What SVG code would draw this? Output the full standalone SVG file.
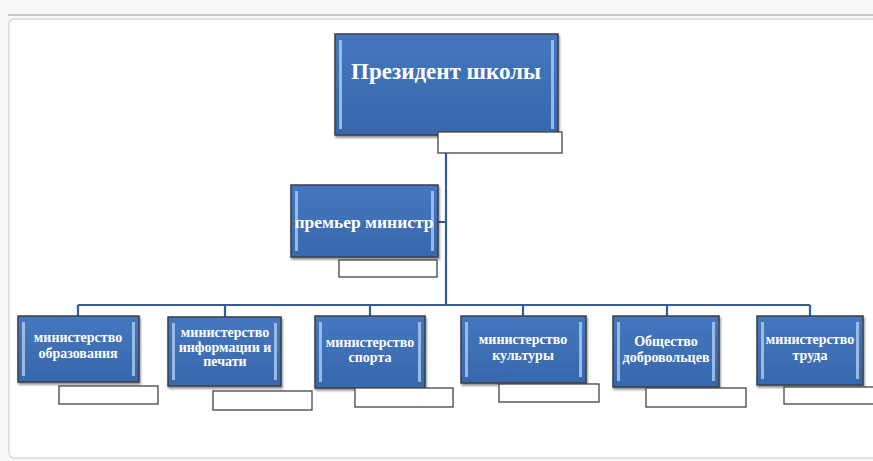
<svg xmlns="http://www.w3.org/2000/svg" width="873" height="461" viewBox="0 0 873 461">
<defs>
<linearGradient id="g" x1="0" y1="0" x2="0" y2="1">
<stop offset="0" stop-color="#4677be"/>
<stop offset="1" stop-color="#3767ac"/>
</linearGradient>
<filter id="sh" x="-10%" y="-10%" width="120%" height="130%">
<feDropShadow dx="1" dy="2" stdDeviation="1.2" flood-color="#000" flood-opacity="0.45"/>
</filter>
</defs>
<style>
.box{fill:url(#g);stroke:#3a3f48;stroke-width:1.5;filter:url(#sh)}
.bev{fill:#a8c8ee;opacity:0.85}
.lbl{fill:#fff;stroke:#444;stroke-width:1.3}
.t{font-family:"Liberation Serif","Times New Roman",serif;font-weight:bold;fill:#fff;text-anchor:middle}
.s{font-size:14px}
.c{fill:none;stroke:#2f5d9e;stroke-width:2.2}
</style>
<rect width="873" height="461" fill="#f7f7f7"/>
<line x1="8" y1="15" x2="873" y2="15" stroke="#c8c8c8" stroke-width="2"/>
<rect x="9" y="19" width="880" height="439" rx="5" fill="#fff" stroke="#d8d8d8" stroke-width="1.5"/>
<g id="connectors">
<path class="c" d="M446 153 V305 M438 222 H446 M78 305 H810 M78 305 V316 M225 305 V317 M370 305 V316 M523 305 V316 M667 305 V316 M810 305 V316"/>
</g>
<g id="president">
<rect class="box" x="335" y="34" width="223" height="101"/>
<rect class="bev" x="339" y="40" width="3" height="89"/>
<rect class="bev" x="551" y="40" width="3" height="89"/>
<text class="t" x="446" y="79" font-size="23">Президент школы</text>
<rect class="lbl" x="438" y="132" width="124" height="21"/>
</g>
<g id="premier">
<rect class="box" x="291" y="185" width="147" height="72"/>
<rect class="bev" x="295" y="191" width="3" height="60"/>
<rect class="bev" x="431" y="191" width="3" height="60"/>
<text class="t" x="364" y="228" font-size="17.5">премьер министр</text>
<rect class="lbl" x="339" y="260" width="98" height="17"/>
</g>
<g id="m1">
<rect class="box" x="18" y="316" width="121" height="66"/>
<rect class="bev" x="22" y="322" width="3" height="54"/>
<rect class="bev" x="132" y="322" width="3" height="54"/>
<text class="t s" x="78" y="342">министерство</text>
<text class="t s" x="78" y="358">образования</text>
<rect class="lbl" x="59" y="386" width="99" height="18"/>
</g>
<g id="m2">
<rect class="box" x="168" y="317" width="113" height="69"/>
<rect class="bev" x="172" y="323" width="3" height="57"/>
<rect class="bev" x="274" y="323" width="3" height="57"/>
<text class="t s" x="225" y="337">министерство</text>
<text class="t s" x="225" y="352">информации и</text>
<text class="t s" x="225" y="366">печати</text>
<rect class="lbl" x="213" y="391" width="99" height="19"/>
</g>
<g id="m3">
<rect class="box" x="315" y="316" width="110" height="72"/>
<rect class="bev" x="319" y="322" width="3" height="60"/>
<rect class="bev" x="418" y="322" width="3" height="60"/>
<text class="t s" x="370" y="347">министерство</text>
<text class="t s" x="370" y="362">спорта</text>
<rect class="lbl" x="355" y="388" width="98" height="19"/>
</g>
<g id="m4">
<rect class="box" x="461" y="316" width="125" height="67"/>
<rect class="bev" x="465" y="322" width="3" height="55"/>
<rect class="bev" x="579" y="322" width="3" height="55"/>
<text class="t s" x="523" y="344">министерство</text>
<text class="t s" x="523" y="360">культуры</text>
<rect class="lbl" x="499" y="384" width="100" height="18"/>
</g>
<g id="m5">
<rect class="box" x="613" y="316" width="106" height="71"/>
<rect class="bev" x="617" y="322" width="3" height="59"/>
<rect class="bev" x="712" y="322" width="3" height="59"/>
<text class="t s" x="666" y="346">Общество</text>
<text class="t s" x="666" y="362">добровольцев</text>
<rect class="lbl" x="646" y="388" width="100" height="19"/>
</g>
<g id="m6">
<rect class="box" x="757" y="316" width="106" height="69"/>
<rect class="bev" x="761" y="322" width="3" height="57"/>
<rect class="bev" x="856" y="322" width="3" height="57"/>
<text class="t s" x="810" y="344">министерство</text>
<text class="t s" x="810" y="360">труда</text>
<rect class="lbl" x="784" y="387" width="100" height="17"/>
</g>
</svg>
